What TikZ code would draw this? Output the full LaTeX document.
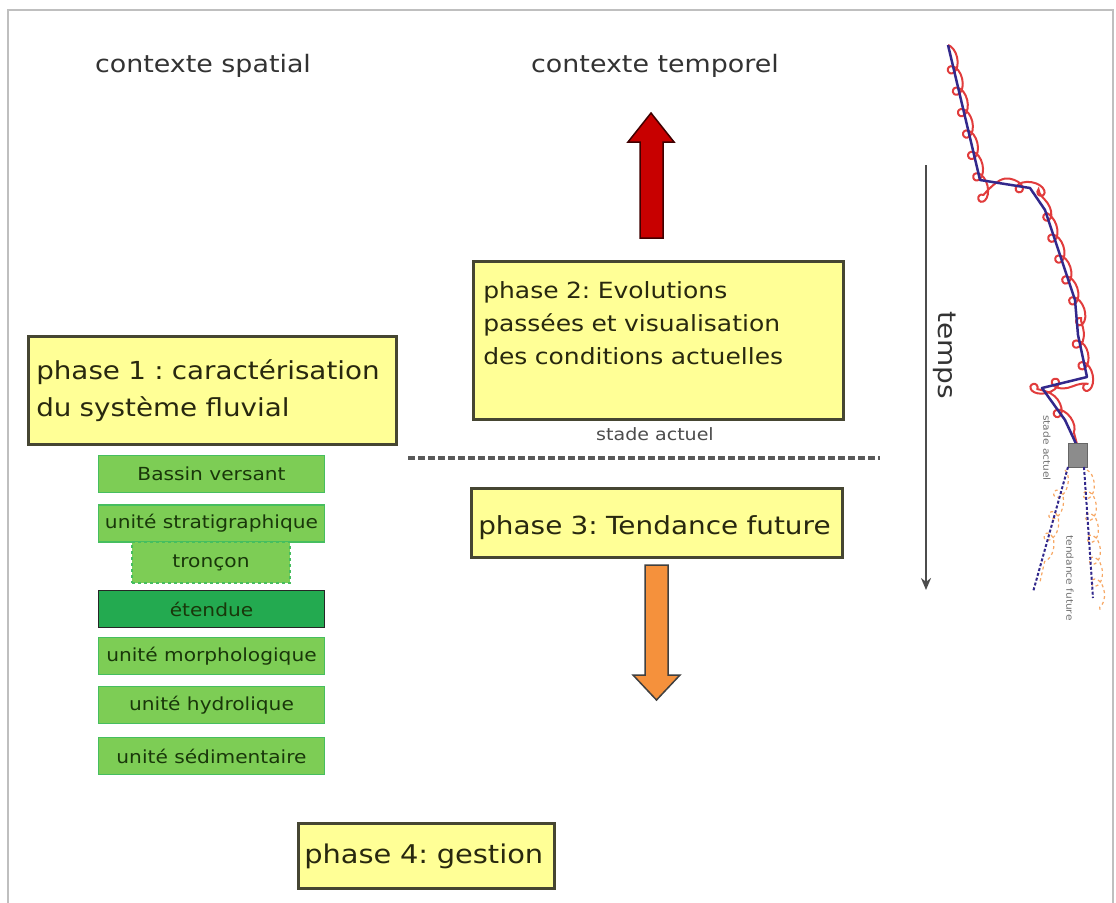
\documentclass[tikz,border=0pt]{standalone}
\usepackage{fontspec}
\setmainfont[FakeStretch=1.12]{DejaVu Sans}
\usepackage{tikz}
\usetikzlibrary{positioning, arrows.meta, decorations.pathmorphing}
\frenchspacing

\definecolor{boxyellow}{RGB}{255,255,150}
\definecolor{boxline}{RGB}{70,70,50}
\definecolor{boxtext}{RGB}{40,40,15}
\definecolor{lightgreen}{RGB}{125,205,85}
\definecolor{greenline}{RGB}{70,190,95}
\definecolor{darkgreen}{RGB}{35,170,80}
\definecolor{greentext}{RGB}{25,55,10}
\definecolor{arrowred}{RGB}{200,0,0}
\definecolor{arroworange}{RGB}{245,145,60}
\definecolor{curveblue}{RGB}{50,40,140}
\definecolor{curvered}{RGB}{225,60,60}

\begin{document}
\begin{tikzpicture}[
    x=1pt, y=-1pt,
    phase/.style={rectangle, draw=boxline, line width=2.5pt, fill=boxyellow, text=boxtext, anchor=north west, align=left, inner ysep=0pt},
    unit/.style={rectangle, draw=greenline, line width=1.5pt, fill=lightgreen, text=greentext, minimum width=226pt, minimum height=37pt, inner sep=0pt, font=\fontsize{18}{20}\selectfont},
    heading/.style={anchor=base, text=black!80, font=\fontsize{24}{28}\selectfont},
    blockarrow/.style={line width=1.5pt, line join=miter},
    vlabel/.style={rotate=-90, text=black!55, font=\fontsize{9.5}{11}\selectfont},
    loops/.style={decorate, decoration={coil, amplitude=6pt, segment length=22pt, aspect=1.4}}
]
\useasboundingbox (0,0) rectangle (1116,902);
\fill[white] (0,0) rectangle (1116,902);
\draw[black!25, line width=2pt] (8,10) rectangle (1113,910);

% Titres
\node[heading] (spatial) at (203,72) {contexte spatial};
\node[heading] (temporel) at (655,72) {contexte temporel};

% Phases
\node[phase, text width=352pt, inner xsep=8pt, text height=43pt, text depth=65pt, font=\fontsize{24.8}{37}\selectfont] (phase1) at (27,335) {phase 1 : caractérisation\\du système fluvial};
\node[phase, text width=350pt, inner xsep=10pt, text height=37pt, text depth=121pt, font=\fontsize{22.3}{33}\selectfont] (phase2) at (472,260) {phase 2: Evolutions\\passées et visualisation\\des conditions actuelles};
\node[phase, text width=357pt, inner xsep=7pt, text height=46pt, text depth=23pt, font=\fontsize{24.9}{28}\selectfont] (phase3) at (470,487) {phase 3: Tendance future};
\node[phase, text width=244pt, inner xsep=6pt, text height=40pt, text depth=25pt, font=\fontsize{25.8}{30}\selectfont] (phase4) at (297,822) {phase 4: gestion};

% Echelles spatiales
\node[unit] (bassin) at (211.5,474) {Bassin versant};
\node[unit] (strati) at (211.5,523.5) {unité stratigraphique};
\node[unit, minimum width=158pt, minimum height=41pt, dashed] (troncon) at (211,562.5) {tronçon};
\node[unit, fill=darkgreen, draw=black!85] (etendue) at (211.5,609) {étendue};
\node[unit] (morpho) at (211.5,656) {unité morphologique};
\node[unit] (hydro) at (211.5,705) {unité hydrolique};
\node[unit] (sedim) at (211.5,756) {unité sédimentaire};

% Stade actuel
\node[anchor=base, text=black!70, font=\fontsize{17}{20}\selectfont] (stade) at (655,440) {stade actuel};
\draw[black!65, line width=4pt, dash pattern=on 7pt off 3pt] (408,458) -- (880,458);

% Fleches
\filldraw[blockarrow, fill=arrowred, draw=black!75!red] (640,238) -- (640,142) -- (628,142) -- (651,113) -- (674,142) -- (663,142) -- (663,238) -- cycle;
\filldraw[blockarrow, fill=arroworange, draw=black!75] (645,565) -- (668,565) -- (668,675) -- (680,675) -- (656.5,700) -- (633,675) -- (645,675) -- cycle;

% Axe du temps
\coordinate (tstart) at (926,165);
\coordinate (tend) at (926,590);
\draw[black!70, line width=2pt, -{Stealth[length=12pt, width=10pt]}] (tstart) -- (tend);
\node[rotate=-90, text=black!80, font=\fontsize{25}{30}\selectfont] (temps) at (945,355) {temps};

% Trajectoire
\draw[curvered, line width=2pt, loops] (948,45) -- (980,180) -- (1030,188) -- (1045,210) -- (1075,300) -- (1078,335) -- (1087,377) -- (1042,388) -- (1065,420) -- (1078,448);
\draw[curveblue, line width=2.5pt, line join=round] (948,45) -- (980,180) -- (1030,188) -- (1045,210) -- (1075,300) -- (1078,335) -- (1087,377) -- (1042,388) -- (1065,420) -- (1078,448);
\filldraw[fill=black!45, draw=black!60, line width=1pt] (1068,443) rectangle (1087,467);
\draw[arroworange!80, line width=1.2pt, dashed, loops] (1065,470) -- (1040,582);
\draw[arroworange!80, line width=1.2pt, dashed, loops] (1087,470) -- (1100,610);
\draw[curveblue, line width=2pt, dash pattern=on 3pt off 2pt] (1068,467) -- (1033,592);
\draw[curveblue, line width=2pt, dash pattern=on 3pt off 2pt] (1084,467) -- (1093,598);
\node[vlabel] (stadelbl) at (1047,448) {stade actuel};
\node[vlabel] (tendlbl) at (1070,578) {tendance future};

\end{tikzpicture}
\end{document}
